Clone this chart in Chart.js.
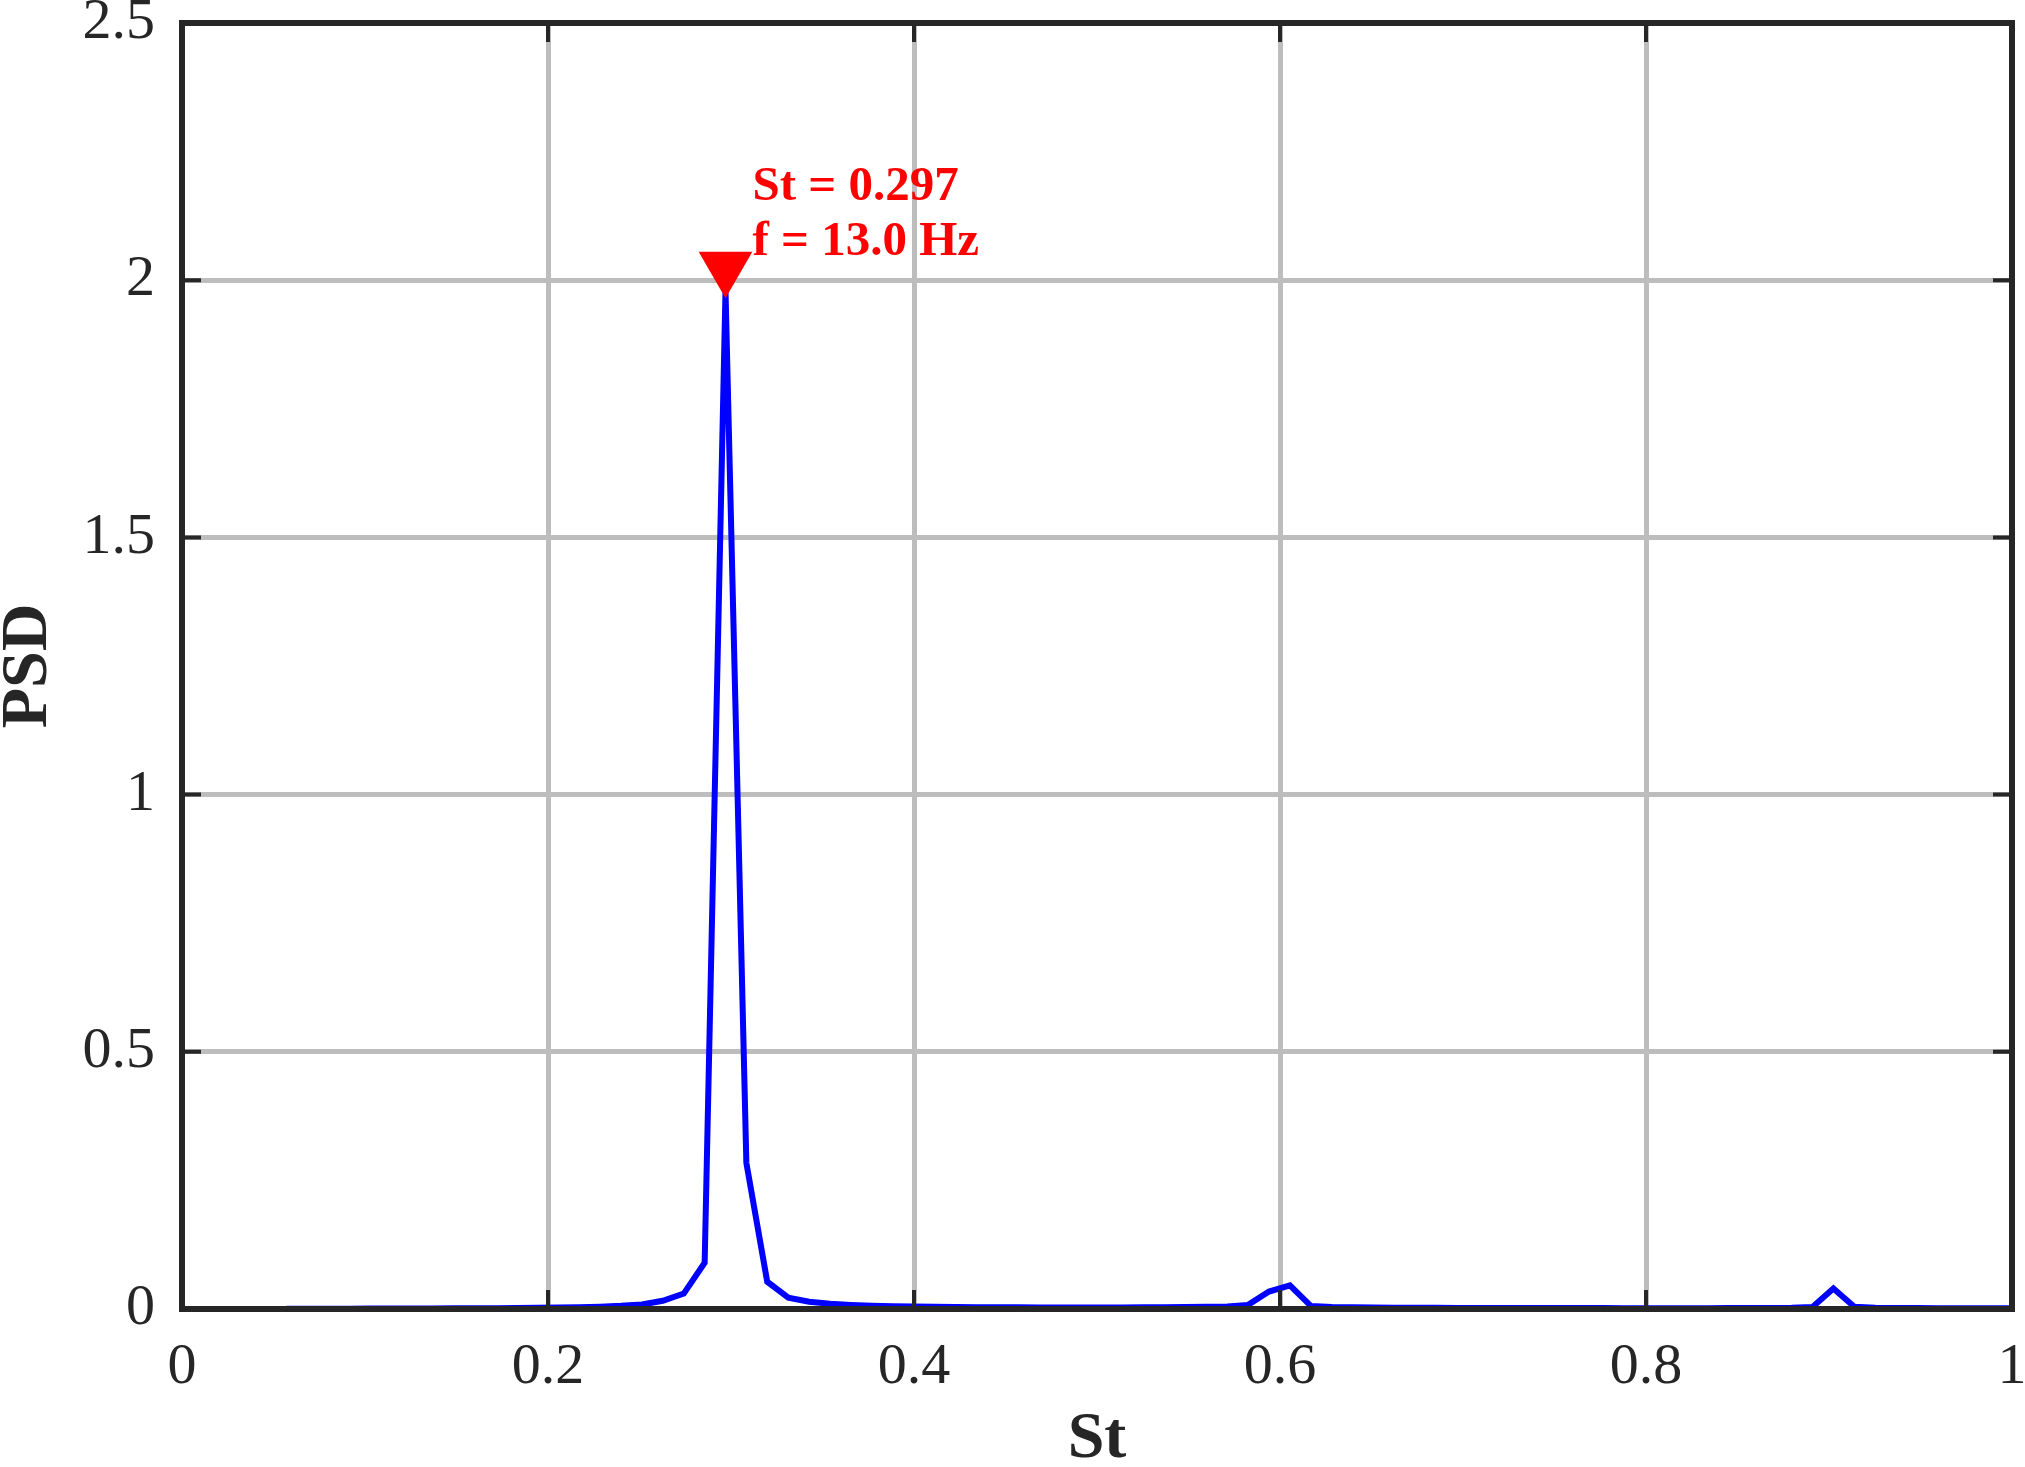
<!DOCTYPE html>
<html>
<head>
<meta charset="utf-8">
<script src="https://cdn.jsdelivr.net/npm/chart.js@4/dist/chart.umd.min.js"></script>
<style>
    html, body { margin: 0; padding: 0; background: #ffffff; }
    #wrap { width: 2025px; height: 1467px; }
</style>
</head>
<body>
<div id="wrap"><canvas id="psdChart" width="2025" height="1467"></canvas></div>
<script>
// Strouhal numbers of the spectrum bins
const stValues = [
    0.0571, 0.0685, 0.0800, 0.0914, 0.1028, 0.1142, 0.1257, 0.1371, 0.1485, 0.1599,
    0.1713, 0.1828, 0.1942, 0.2056, 0.2170, 0.2285, 0.2399, 0.2513, 0.2627, 0.2742,
    0.2856, 0.2970, 0.3084, 0.3198, 0.3313, 0.3427, 0.3541, 0.3655, 0.3770, 0.3884,
    0.3998, 0.4112, 0.4227, 0.4341, 0.4455, 0.4569, 0.4683, 0.4798, 0.4912, 0.5026,
    0.5140, 0.5255, 0.5369, 0.5483, 0.5597, 0.5712, 0.5826, 0.5940, 0.6054, 0.6168,
    0.6283, 0.6397, 0.6511, 0.6625, 0.6740, 0.6854, 0.6968, 0.7082, 0.7197, 0.7311,
    0.7425, 0.7539, 0.7653, 0.7768, 0.7882, 0.7996, 0.8110, 0.8225, 0.8339, 0.8453,
    0.8567, 0.8682, 0.8796, 0.8910, 0.9024, 0.9138, 0.9253, 0.9367, 0.9481, 0.9595,
    0.9710, 0.9824, 0.9938, 1.0052
];

// PSD
const psdValues = [
    0.0005, 0.0005, 0.0006, 0.0007, 0.0008, 0.0009, 0.0010, 0.0011, 0.0013, 0.0015,
    0.0017, 0.0020, 0.0024, 0.0029, 0.0036, 0.0046, 0.0062, 0.0088, 0.0160, 0.0300,
    0.0900, 1.9800, 0.2840, 0.0530, 0.0220, 0.0140, 0.0100, 0.0078, 0.0064, 0.0054,
    0.0047, 0.0042, 0.0038, 0.0035, 0.0033, 0.0032, 0.0031, 0.0030, 0.0030, 0.0030,
    0.0031, 0.0032, 0.0034, 0.0037, 0.0042, 0.0050, 0.0080, 0.0340, 0.0460, 0.0060,
    0.0040, 0.0032, 0.0028, 0.0025, 0.0023, 0.0022, 0.0021, 0.0020, 0.0020, 0.0019,
    0.0019, 0.0018, 0.0018, 0.0018, 0.0017, 0.0017, 0.0017, 0.0017, 0.0017, 0.0018,
    0.0019, 0.0021, 0.0025, 0.0040, 0.0400, 0.0045, 0.0025, 0.0020, 0.0018, 0.0017,
    0.0016, 0.0016, 0.0015, 0.0015
];

// Peak marker and its label
const peakSt = 0.297;
const peakMarkerPsd = 2.025;
const peakFreqHz = 13.0;

const xTicks = [0, 0.2, 0.4, 0.6, 0.8, 1];
const yTicks = [0, 0.5, 1, 1.5, 2, 2.5];

const serif = "'Liberation Serif', 'Times New Roman', serif";
const axisColor = '#262626';
const gridColor = '#bdbdbd';

function fmt(v) {
    return String(Math.round(v * 100) / 100);
}

// keep the plot box where the figure has it, labels may overhang
function noPad(scale) {
    scale.paddingTop = 0;
    scale.paddingBottom = 0;
    scale.paddingLeft = 0;
    scale.paddingRight = 0;
}

// Box, inward ticks on all four sides, and the peak label
const boxPlugin = {
    id: 'boxPlugin',
    afterDatasetsDraw(chart) {
        const ctx = chart.ctx;
        const a = chart.chartArea;
        const xs = chart.scales.x;
        const ys = chart.scales.y;
        const tl = 19;
        ctx.save();
        ctx.strokeStyle = axisColor;
        ctx.lineWidth = 4;
        ctx.beginPath();
        xTicks.forEach(v => {
            const px = xs.getPixelForValue(v);
            ctx.moveTo(px, a.bottom);
            ctx.lineTo(px, a.bottom - tl);
            ctx.moveTo(px, a.top);
            ctx.lineTo(px, a.top + tl);
        });
        yTicks.forEach(v => {
            const py = ys.getPixelForValue(v);
            ctx.moveTo(a.left, py);
            ctx.lineTo(a.left + tl, py);
            ctx.moveTo(a.right, py);
            ctx.lineTo(a.right - tl, py);
        });
        ctx.stroke();
        ctx.lineWidth = 6;
        ctx.strokeRect(a.left, a.top, a.right - a.left, a.bottom - a.top);

        // red annotation next to the marker
        const lx = xs.getPixelForValue(peakSt) + 27;
        const ly = ys.getPixelForValue(peakMarkerPsd);
        ctx.fillStyle = '#ff0000';
        ctx.font = 'bold 49px ' + serif;
        ctx.textAlign = 'left';
        ctx.textBaseline = 'alphabetic';
        ctx.fillText('St = ' + peakSt.toFixed(3), lx, ly - 67);
        ctx.fillText('f = ' + peakFreqHz.toFixed(1) + ' Hz', lx, ly - 12);
        ctx.restore();
    }
};

const chart = new Chart(document.getElementById('psdChart'), {
    type: 'scatter',
    data: {
        datasets: [
            {
                label: 'peak',
                data: [{ x: peakSt, y: peakMarkerPsd }],
                pointStyle: 'triangle',
                rotation: 180,
                pointRadius: 31,
                backgroundColor: '#ff0000',
                borderColor: '#ff0000',
                borderWidth: 0,
                showLine: false,
                order: 0
            },
            {
                label: 'PSD',
                data: stValues.map((s, i) => ({ x: s, y: psdValues[i] })),
                showLine: true,
                borderColor: '#0000ff',
                borderWidth: 6,
                pointRadius: 0,
                tension: 0,
                fill: false,
                order: 1
            }
        ]
    },
    options: {
        responsive: false,
        animation: false,
        devicePixelRatio: 1,
        layout: { autoPadding: false, padding: { left: 0, top: 23, right: 13, bottom: 0 } },
        plugins: {
            legend: { display: false },
            tooltip: { enabled: false }
        },
        scales: {
            x: {
                type: 'linear',
                min: 0,
                max: 1,
                afterBuildTicks: scale => { scale.ticks = xTicks.map(v => ({ value: v })); },
                afterFit: scale => { scale.height = 158; noPad(scale); },
                grid: { color: gridColor, lineWidth: 5, drawTicks: false },
                border: { display: false },
                ticks: {
                    color: axisColor,
                    font: { family: serif, size: 58 },
                    padding: 24,
                    maxRotation: 0,
                    callback: v => fmt(v)
                },
                title: {
                    display: true,
                    text: 'St',
                    color: axisColor,
                    font: { family: serif, size: 66, weight: 'bold', lineHeight: 0.82 },
                    padding: 0
                }
            },
            y: {
                type: 'linear',
                min: 0,
                max: 2.5,
                afterBuildTicks: scale => { scale.ticks = yTicks.map(v => ({ value: v })); },
                afterFit: scale => { scale.width = 182; noPad(scale); },
                grid: { color: gridColor, lineWidth: 5, drawTicks: false },
                border: { display: false },
                ticks: {
                    color: axisColor,
                    font: { family: serif, size: 58 },
                    padding: 27,
                    callback: v => fmt(v)
                },
                title: {
                    display: true,
                    text: 'PSD',
                    color: axisColor,
                    font: { family: serif, size: 66, weight: 'bold', lineHeight: 0.88 },
                    padding: 0
                }
            }
        }
    },
    plugins: [boxPlugin]
});
</script>
</body>
</html>
